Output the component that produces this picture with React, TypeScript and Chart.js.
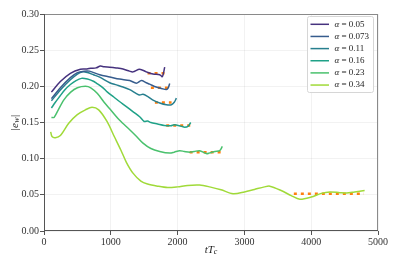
import React, { useEffect, useRef } from "react";
import { Chart, registerables } from "chart.js";

Chart.register(...registerables);

const ALPHA_LABELS = ["0.05", "0.073", "0.11", "0.16", "0.23", "0.34"];
const COLORS = ["#46327e", "#365c8d", "#277f8e", "#1fa187", "#4ac16d", "#a0da39"];
const FIT_COLOR = "#ff7f0e";

const T_A = [111, 245, 395, 545, 644, 700, 780, 844, 900, 984, 1080, 1183, 1280, 1332, 1432, 1533, 1632, 1732, 1772, 1807];
const E_A = [0.192, 0.2066, 0.218, 0.2237, 0.224, 0.225, 0.2255, 0.228, 0.227, 0.2265, 0.2255, 0.224, 0.221, 0.22, 0.2237, 0.22, 0.217, 0.216, 0.2135, 0.2265];

const T_B = [111, 245, 395, 500, 600, 680, 834, 984, 1133, 1283, 1383, 1458, 1530, 1582, 1680, 1760, 1832, 1860, 1882];
const E_B = [0.183, 0.198, 0.212, 0.219, 0.221, 0.221, 0.216, 0.213, 0.21, 0.208, 0.2044, 0.208, 0.205, 0.203, 0.199, 0.197, 0.1955, 0.198, 0.204];

const T_C = [111, 245, 395, 500, 580, 650, 740, 834, 984, 1084, 1183, 1283, 1383, 1432, 1482, 1550, 1632, 1732, 1832, 1907, 1950, 1982];
const E_C = [0.18, 0.195, 0.209, 0.217, 0.22, 0.219, 0.216, 0.2127, 0.205, 0.202, 0.199, 0.1955, 0.19, 0.188, 0.189, 0.186, 0.181, 0.177, 0.1745, 0.1745, 0.178, 0.1837];

const T_D = [111, 170, 235, 310, 395, 480, 560, 650, 740, 784, 870, 950, 1033, 1130, 1233, 1330, 1432, 1500, 1550, 1600, 1700, 1800, 1900, 1950, 2050, 2106, 2160, 2196];
const E_D = [0.17, 0.178, 0.186, 0.195, 0.2025, 0.208, 0.211, 0.21, 0.207, 0.2044, 0.199, 0.192, 0.186, 0.179, 0.172, 0.165, 0.158, 0.1514, 0.152, 0.15, 0.148, 0.146, 0.1455, 0.147, 0.145, 0.1436, 0.145, 0.15];

const T_E = [111, 150, 200, 295, 400, 500, 620, 700, 800, 900, 984, 1133, 1283, 1382, 1482, 1600, 1732, 1882, 1950, 2031, 2100, 2181, 2250, 2331, 2430, 2481, 2560, 2630, 2670];
const E_E = [0.157, 0.157, 0.165, 0.181, 0.192, 0.198, 0.2, 0.198, 0.19, 0.178, 0.169, 0.153, 0.14, 0.131, 0.1215, 0.114, 0.11, 0.1077, 0.109, 0.111, 0.11, 0.109, 0.11, 0.111, 0.107, 0.108, 0.11, 0.111, 0.117];

const T_F = [100, 120, 170, 245, 370, 494, 620, 719, 819, 943, 1050, 1150, 1233, 1332, 1450, 1550, 1700, 1850, 2000, 2150, 2330, 2480, 2650, 2830, 3000, 3150, 3300, 3380, 3550, 3700, 3830, 4000, 4150, 4280, 4430, 4530, 4650, 4800];
const E_F = [0.137, 0.1306, 0.129, 0.132, 0.149, 0.1606, 0.1675, 0.1712, 0.1675, 0.1514, 0.131, 0.112, 0.095, 0.08, 0.069, 0.065, 0.062, 0.06, 0.061, 0.063, 0.0635, 0.061, 0.057, 0.0515, 0.054, 0.0575, 0.061, 0.062, 0.056, 0.049, 0.044, 0.047, 0.052, 0.054, 0.053, 0.0525, 0.054, 0.056];

const FIT_START = [1550, 1600, 1660, 1830, 2180, 3740];
const FIT_END = [1820, 1860, 1910, 2200, 2670, 4790];
const FIT_VALUE = [0.218, 0.198, 0.1775, 0.146, 0.109, 0.0515];

const X_TICKS = [0, 1000, 2000, 3000, 4000, 5000];
const Y_TICKS = [0.0, 0.05, 0.1, 0.15, 0.2, 0.25, 0.3];

const SERIES_T = [T_A, T_B, T_C, T_D, T_E, T_F];
const SERIES_E = [E_A, E_B, E_C, E_D, E_E, E_F];

const SERIF = "'Liberation Serif', 'DejaVu Serif', serif";

const framePlugin = {
  id: "frameAndLabels",
  afterDraw(chart: any) {
    const { ctx, chartArea } = chart;
    const { left, right, top, bottom } = chartArea;
    ctx.save();
    // frame
    ctx.lineWidth = 1;
    ctx.strokeStyle = "#8a8a8a";
    ctx.beginPath();
    ctx.moveTo(left, top + 0.5);
    ctx.lineTo(right, top + 0.5);
    ctx.moveTo(right - 0.5, top);
    ctx.lineTo(right - 0.5, bottom);
    ctx.stroke();
    ctx.strokeStyle = "#555";
    ctx.beginPath();
    ctx.moveTo(left + 0.5, top);
    ctx.lineTo(left + 0.5, bottom);
    ctx.moveTo(left, bottom - 0.5);
    ctx.lineTo(right, bottom - 0.5);
    ctx.stroke();

    // legend
    const lx = 307, ly = 16, lw = 66, lh = 76;
    ctx.fillStyle = "rgba(255,255,255,0.85)";
    ctx.strokeStyle = "#d6d6d6";
    ctx.beginPath();
    if ((ctx as any).roundRect) (ctx as any).roundRect(lx + 0.5, ly + 0.5, lw, lh, 2);
    else ctx.rect(lx + 0.5, ly + 0.5, lw, lh);
    ctx.fill();
    ctx.stroke();
    ALPHA_LABELS.forEach((lab, i) => {
      const y = ly + 8.3 + i * 12.15;
      ctx.strokeStyle = COLORS[i];
      ctx.lineWidth = 1.5;
      ctx.beginPath();
      ctx.moveTo(310.5, y);
      ctx.lineTo(329, y);
      ctx.stroke();
      ctx.fillStyle = "#222";
      ctx.textBaseline = "middle";
      ctx.textAlign = "left";
      ctx.font = "italic 9px " + SERIF;
      ctx.fillText("\u03b1", 334.5, y);
      const aw = ctx.measureText("\u03b1").width;
      ctx.font = "9px " + SERIF;
      ctx.fillText(" = " + lab, 334.5 + aw, y);
    });

    // y label |e_w|
    ctx.fillStyle = "#222";
    ctx.translate(15, (top + bottom) / 2);
    ctx.rotate(-Math.PI / 2);
    ctx.textBaseline = "middle";
    ctx.textAlign = "left";
    const parts: [string, string, number, number][] = [
      ["|", "11px ", 0, 0],
      ["e", "italic 11px ", 0, 0],
      ["w", "italic 8px ", 2, 0],
      ["|", "11px ", 0, 0],
    ];
    let total = 0;
    parts.forEach((p) => {
      ctx.font = p[1] + SERIF;
      total += ctx.measureText(p[0]).width + 0.5;
    });
    let cx = -total / 2;
    parts.forEach((p) => {
      ctx.font = p[1] + SERIF;
      ctx.fillText(p[0], cx, p[2]);
      cx += ctx.measureText(p[0]).width + 0.5;
    });
    ctx.setTransform(1, 0, 0, 1, 0, 0);

    // x label tT_c
    const xparts: [string, string, number][] = [
      ["tT", "italic 11px ", 0],
      ["c", "italic 8px ", 2],
    ];
    let tw = 0;
    xparts.forEach((p) => {
      ctx.font = p[1] + SERIF;
      tw += ctx.measureText(p[0]).width;
    });
    let xx = (left + right) / 2 - tw / 2;
    xparts.forEach((p) => {
      ctx.font = p[1] + SERIF;
      ctx.fillText(p[0], xx, 250 + p[2]);
      xx += ctx.measureText(p[0]).width;
    });
    ctx.restore();
  },
};

export default function App() {
  const ref = useRef<HTMLCanvasElement>(null);
  useEffect(() => {
    if (!ref.current) return;
    const datasets: any[] = SERIES_T.map((ts, i) => ({
      label: "\u03b1 = " + ALPHA_LABELS[i],
      data: ts.map((t, j) => ({ x: t, y: SERIES_E[i][j] })),
      borderColor: COLORS[i],
      borderWidth: 1.5,
      pointRadius: 0,
      tension: 0.3,
      fill: false,
    }));
    FIT_START.forEach((s, i) => {
      datasets.push({
        label: "fit " + ALPHA_LABELS[i],
        data: [
          { x: s, y: FIT_VALUE[i] },
          { x: FIT_END[i], y: FIT_VALUE[i] },
        ],
        borderColor: FIT_COLOR,
        borderWidth: 2.5,
        borderDash: [3, 4],
        borderCapStyle: "butt",
        pointRadius: 0,
        fill: false,
      });
    });
    const chart = new Chart(ref.current, {
      type: "line",
      data: { datasets },
      options: {
        animation: false,
        responsive: false,
        devicePixelRatio: 1,
        layout: { padding: { left: 0, top: 14, right: 21, bottom: 0 } },
        plugins: { legend: { display: false }, tooltip: { enabled: false } },
        scales: {
          x: {
            type: "linear",
            min: 0,
            max: 5000,
            afterBuildTicks: (s: any) => {
              s.ticks = X_TICKS.map((v) => ({ value: v }));
            },
            afterFit: (s: any) => {
              s.height = 35;
            },
            ticks: {
              color: "#333",
              font: { family: SERIF, size: 10 },
              padding: 1,
              maxRotation: 0,
              callback: (v: any) => String(v),
            },
            grid: { color: "rgba(0,0,0,0.05)", tickColor: "#555", tickLength: 4 },
            border: { display: false },
          },
          y: {
            type: "linear",
            min: 0,
            max: 0.3,
            afterBuildTicks: (s: any) => {
              s.ticks = Y_TICKS.map((v) => ({ value: v }));
            },
            afterFit: (s: any) => {
              s.width = 44;
            },
            ticks: {
              color: "#333",
              font: { family: SERIF, size: 10 },
              padding: 1,
              callback: (v: any) => Number(v).toFixed(2),
            },
            grid: { color: "rgba(0,0,0,0.05)", tickColor: "#555", tickLength: 4 },
            border: { display: false },
          },
        },
      },
      plugins: [framePlugin],
    } as any);
    return () => chart.destroy();
  }, []);
  return (
    <div style={{ position: "fixed", left: 0, top: 0, width: 399, height: 266, background: "#fff" }}>
      <canvas ref={ref} width={399} height={266} />
    </div>
  );
}
